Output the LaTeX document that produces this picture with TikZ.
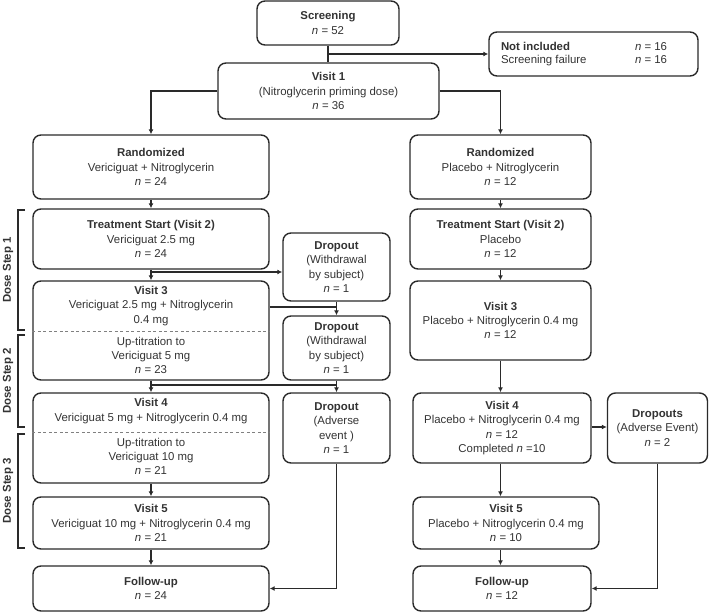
\documentclass[tikz,border=0pt]{standalone}
\usepackage{fontspec}
\setmainfont{Liberation Sans}
\usetikzlibrary{arrows.meta,calc}
\definecolor{ln}{HTML}{2A2A2A}
\definecolor{tx}{HTML}{333333}
\begin{document}
\begin{tikzpicture}[x=1pt,y=-1pt,
  box/.style={draw=ln,line width=1.4pt,rounded corners=8pt,inner sep=0pt,
    text=tx,align=center,font=\fontsize{11.4}{14.3}\selectfont},
  txt/.style={text=tx,align=center,font=\fontsize{11.4}{14.3}\selectfont,inner sep=0pt},
  arr/.style={draw=ln,line width=1.2pt,-{Latex[length=5pt,width=5pt]}},
  con/.style={draw=ln,line width=1.2pt},
  brk/.style={draw=ln,line width=1.2pt},
  dline/.style={draw=gray,line width=0.7pt,dash pattern=on 3pt off 2.5pt},
  dslabel/.style={rotate=90,text=tx,font=\fontsize{11.4}{14}\selectfont\bfseries,inner sep=0pt}]
\useasboundingbox (0,0) rectangle (709,612);

% top
\node[box,minimum width=142pt,minimum height=44pt] (scr) at (328,23) {\textbf{Screening}\\\textit{n} = 52};
\node[box,minimum width=209pt,minimum height=44pt] (notinc) at (593.5,54)
  {\begin{tabular}{@{}p{134pt}@{}p{51pt}@{}}\textbf{Not included} & \textit{n} = 16\\[-1pt] Screening failure & \textit{n} = 16\end{tabular}};
\node[box,minimum width=221pt,minimum height=56pt] (v1) at (328.5,91) {\textbf{Visit 1}\\(Nitroglycerin priming dose)\\\textit{n} = 36};

% left column
\node[box,minimum width=236pt,minimum height=64pt] (lrand) at (151,167) {\textbf{Randomized}\\Vericiguat + Nitroglycerin\\\textit{n} = 24};
\node[box,minimum width=236pt,minimum height=60pt] (ltreat) at (151,239) {\textbf{Treatment Start (Visit 2)}\\Vericiguat 2.5 mg\\\textit{n} = 24};
\node[box,minimum width=236pt,minimum height=99pt] (lv3) at (151,330.5) {};
\node[txt] (lv3a) at (151,306) {\textbf{Visit 3}\\Vericiguat 2.5 mg + Nitroglycerin\\0.4 mg};
\node[txt] (lv3b) at (151,355.5) {Up-titration to\\Vericiguat 5 mg\\\textit{n} = 23};
\draw[dline] (lv3.west |- 0,331) -- (lv3.east |- 0,331);
\node[box,minimum width=236pt,minimum height=90pt] (lv4) at (151,438) {};
\node[txt] (lv4a) at (151,411) {\textbf{Visit 4}\\Vericiguat 5 mg + Nitroglycerin 0.4 mg};
\node[txt] (lv4b) at (151,456.5) {Up-titration to\\Vericiguat 10 mg\\\textit{n} = 21};
\draw[dline] (lv4.west |- 0,432) -- (lv4.east |- 0,432);
\node[box,minimum width=236pt,minimum height=52pt] (lv5) at (151,523) {\textbf{Visit 5}\\Vericiguat 10 mg + Nitroglycerin 0.4 mg\\\textit{n} = 21};
\node[box,minimum width=236pt,minimum height=45pt] (lfu) at (151,588.5) {\textbf{Follow-up}\\\textit{n} = 24};

% dropouts
\node[box,minimum width=107pt,minimum height=68pt] (d1) at (336.5,267) {\textbf{Dropout}\\(Withdrawal\\by subject)\\\textit{n} = 1};
\node[box,minimum width=107pt,minimum height=64pt] (d2) at (336.5,348) {\textbf{Dropout}\\(Withdrawal\\by subject)\\\textit{n} = 1};
\node[box,minimum width=107pt,minimum height=70pt] (d3) at (336.5,428) {\textbf{Dropout}\\(Adverse\\event )\\\textit{n} = 1};

% right column
\node[box,minimum width=181pt,minimum height=64pt] (rrand) at (500.5,167) {\textbf{Randomized}\\Placebo + Nitroglycerin\\\textit{n} = 12};
\node[box,minimum width=181pt,minimum height=60pt] (rtreat) at (500.5,239) {\textbf{Treatment Start (Visit 2)}\\Placebo\\\textit{n} = 12};
\node[box,minimum width=181pt,minimum height=79pt] (rv3) at (500.5,320.5) {\textbf{Visit 3}\\Placebo + Nitroglycerin 0.4 mg\\\textit{n} = 12};
\node[box,minimum width=178pt,minimum height=70pt] (rv4) at (502,428) {\textbf{Visit 4}\\Placebo + Nitroglycerin 0.4 mg\\\textit{n} = 12\\Completed \textit{n} =10};
\node[box,minimum width=100pt,minimum height=70pt] (rdrop) at (657.5,428) {\textbf{Dropouts}\\(Adverse Event)\\\textit{n} = 2};
\node[box,minimum width=186pt,minimum height=52pt] (rv5) at (506,523) {\textbf{Visit 5}\\Placebo + Nitroglycerin 0.4 mg\\\textit{n} = 10};
\node[box,minimum width=178pt,minimum height=45pt] (rfu) at (502,588.5) {\textbf{Follow-up}\\\textit{n} = 12};

% dose step brackets
\draw[brk] (25,210) -- (18,210) -- (18,330) -- (25,330);
\draw[brk] (25,335) -- (18,335) -- (18,427) -- (25,427);
\draw[brk] (25,434) -- (18,434) -- (18,548) -- (25,548);
\node[dslabel] (ds1) at (8,270) {Dose Step 1};
\node[dslabel] (ds2) at (8,381) {Dose Step 2};
\node[dslabel] (ds3) at (8,491) {Dose Step 3};

% connectors top
\draw[con] (scr.south) -- (scr.south |- v1.north);
\draw[arr] (scr.south |- notinc.west) -- (notinc.west);
\draw[arr] (v1.west) -| (lrand.north);
\draw[arr] (v1.east) -| (rrand.north);

% left connectors
\draw[arr] (lrand.south) -- (ltreat.north);
\draw[arr] (ltreat.south) -- (lv3.north);
\coordinate (j1) at (151,272);
\draw[arr] (j1) -- (j1 -| d1.west);
\draw[con] (lv3.east |- 0,307) -- (d1.south |- 0,307);
\draw[arr] (d1.south) -- (d2.north);
\draw[arr] (lv3.south) -- (lv4.north);
\draw[con] (lv3.south |- 0,385) -- (d2.south |- 0,385);
\draw[arr] (d2.south) -- (d3.north);
\draw[arr] (lv4.south) -- (lv5.north);
\draw[arr] (lv5.south) -- (lfu.north);
\draw[arr] (d3.south) |- (lfu.east);

% right connectors
\draw[arr] (rrand.south) -- (rtreat.north);
\draw[arr] (rtreat.south) -- (rv3.north);
\draw[arr] (rv3.south) -- (rv3.south |- rv4.north);
\draw[arr] (rv3.south |- rv4.south) -- (rv3.south |- rv5.north);
\draw[arr] (rv3.south |- rv5.south) -- (rv3.south |- rfu.north);
\draw[arr] (rv4.east |- 0,427) -- (rdrop.west |- 0,427);
\draw[arr] (rdrop.south) |- (rfu.east);
\end{tikzpicture}
\end{document}
